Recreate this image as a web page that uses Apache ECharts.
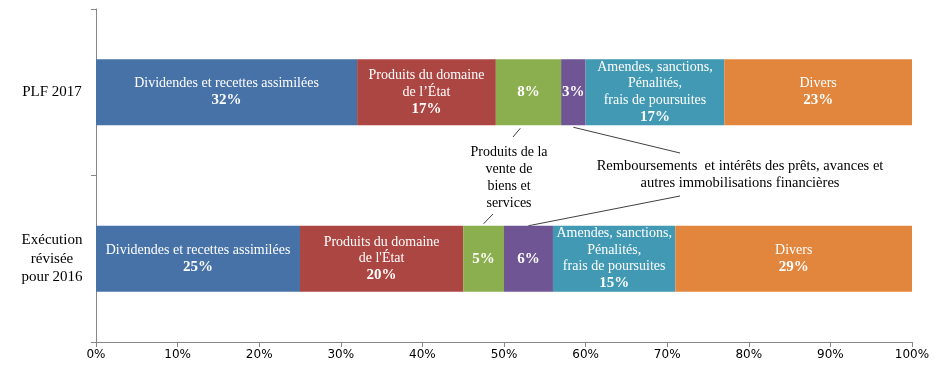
<!DOCTYPE html>
<html>
<head>
<meta charset="utf-8">
<script src="https://cdn.jsdelivr.net/npm/echarts@6/dist/echarts.min.js"></script>
<style>
  html, body { margin: 0; padding: 0; background: #fff; }
  #chart { width: 935px; height: 375px; }
</style>
</head>
<body>
<div id="chart"></div>
<script>
// categories (top to bottom)
const categories = ['PLF 2017', 'Exécution\nrévisée\npour 2016'];

// revenue items, in stacking order
const seriesNames = [
  'Dividendes et recettes assimilées',
  'Produits du domaine de l’État',
  'Produits de la vente de biens et services',
  'Remboursements et intérêts des prêts, avances et autres immobilisations financières',
  'Amendes, sanctions, Pénalités, frais de poursuites',
  'Divers'
];

// shares in %, one value per item
const plf2017 = [32, 17, 8, 3, 17, 23];
const exec2016 = [25, 20, 5, 6, 15, 29];

// text written inside each segment (above the percentage), [plf, exec]
const segmentText = [
  [['Dividendes et recettes assimilées'], ['Dividendes et recettes assimilées']],
  [['Produits du domaine', 'de l’État'], ['Produits du domaine', "de l'État"]],
  [[], []],
  [[], []],
  [['Amendes, sanctions,', 'Pénalités,', 'frais de poursuites'], ['Amendes, sanctions,', 'Pénalités,', 'frais de poursuites']],
  [['Divers'], ['Divers']]
];

const xTicks = [0, 10, 20, 30, 40, 50, 60, 70, 80, 90, 100];

const colors = ['#4672A8', '#AC4642', '#8BAE4F', '#6F5594', '#4199B3', '#E2853D'];
const serif = '"Liberation Serif", "DejaVu Serif", serif';

var dom = document.getElementById('chart');
var myChart = echarts.init(dom, null, { renderer: 'canvas' });

var series = seriesNames.map(function (name, i) {
  return {
    name: name,
    type: 'bar',
    stack: 'total',
    barWidth: 66,
    itemStyle: { color: colors[i] },
    data: [plf2017[i], exec2016[i]],
    label: {
      show: true,
      position: 'inside',
      formatter: function (p) {
        var lines = segmentText[i][p.dataIndex].map(function (t) {
          return '{n|' + t + '}';
        });
        lines.push('{p|' + p.value + '%}');
        return lines.join('\n');
      },
      rich: {
        n: { color: '#fff', fontFamily: serif, fontSize: 14, lineHeight: 16.5 },
        p: { color: '#fff', fontFamily: serif, fontSize: 15, fontWeight: 'bold', lineHeight: 17 }
      }
    }
  };
});

var option = {
  animation: false,
  grid: { left: 96, right: 23, top: 9, bottom: 33 },
  xAxis: {
    type: 'value',
    min: 0,
    max: 100,
    interval: 10,
    splitLine: { show: false },
    axisLine: { show: true, lineStyle: { color: '#868686' } },
    axisTick: { show: true, length: 5, lineStyle: { color: '#868686' } },
    axisLabel: {
      color: '#000',
      fontFamily: '"DejaVu Sans", sans-serif',
      fontSize: 12,
      margin: 7,
      formatter: function (v) { return xTicks.indexOf(v) >= 0 ? v + '%' : ''; }
    }
  },
  yAxis: {
    type: 'category',
    inverse: true,
    data: categories,
    axisLine: { show: true, lineStyle: { color: '#868686' } },
    axisTick: { show: true, length: 5, lineStyle: { color: '#868686' } },
    axisLabel: {
      color: '#000',
      fontFamily: serif,
      fontSize: 15,
      lineHeight: 18.5,
      align: 'center',
      margin: 44
    }
  },
  series: series
};

myChart.setOption(option);

// callout lines and notes, anchored on the bar segments
function px(v, cat) {
  return myChart.convertToPixel({ xAxisIndex: 0, yAxisIndex: 0 }, [v, cat]);
}
var half = 33;
var gTop = px(52, 0), gBot = px(47.5, 1), pTop = px(58.5, 0), pBot = px(53, 1);
var lineStyle = { stroke: '#404040', lineWidth: 1 };

myChart.setOption({
  graphic: [
    { type: 'line', shape: { x1: gTop[0], y1: gTop[1] + half + 3, x2: 513, y2: 137 }, style: lineStyle },
    { type: 'line', shape: { x1: gBot[0], y1: gBot[1] - half - 2, x2: 493, y2: 214 }, style: lineStyle },
    { type: 'line', shape: { x1: pTop[0], y1: pTop[1] + half + 2, x2: 680, y2: 153 }, style: lineStyle },
    { type: 'line', shape: { x1: pBot[0], y1: pBot[1] - half, x2: 680, y2: 196 }, style: lineStyle },
    {
      type: 'text', x: 509, y: 144,
      style: {
        text: 'Produits de la\nvente de\nbiens et\nservices',
        fill: '#000', font: '14px ' + serif, lineHeight: 17, align: 'center'
      }
    },
    {
      type: 'text', x: 740, y: 158,
      style: {
        text: 'Remboursements  et intérêts des prêts, avances et\nautres immobilisations financières',
        fill: '#000', font: '14.5px ' + serif, lineHeight: 17, align: 'center'
      }
    }
  ]
});

window.addEventListener('resize', myChart.resize);
</script>
</body>
</html>
